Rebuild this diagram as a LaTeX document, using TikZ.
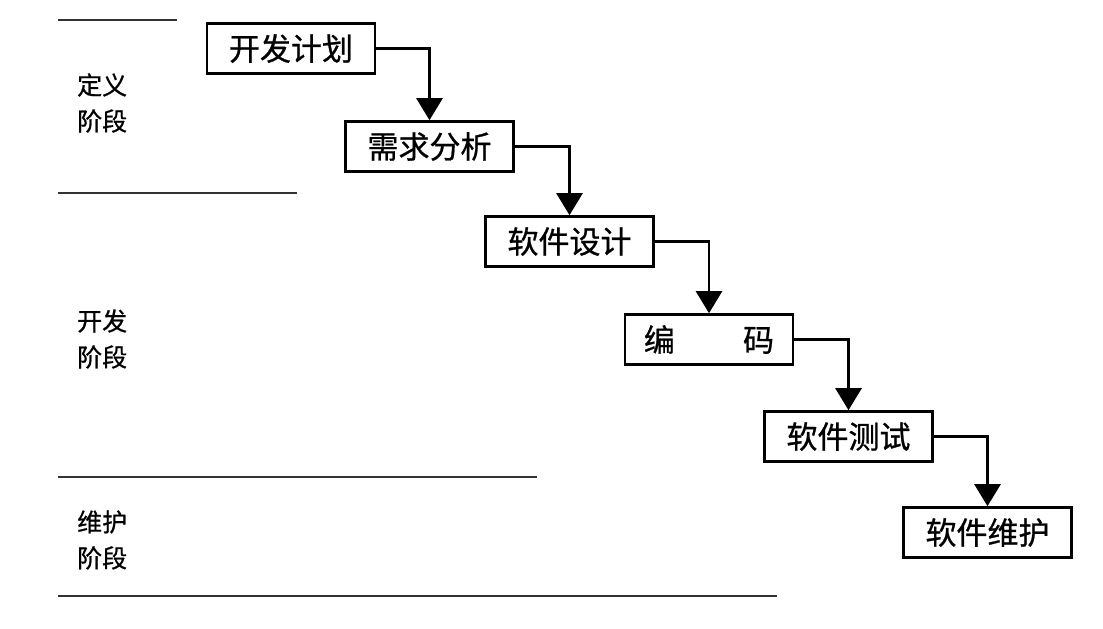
\documentclass[tikz,border=0pt]{standalone}
\usepackage{fontspec}
\newfontfamily\cjk[FakeBold=0.8]{Noto Sans CJK SC}
\usetikzlibrary{arrows.meta}
\begin{document}
\begin{tikzpicture}[x=1pt,y=-1pt,
  stage/.style={draw=black, line width=2.6pt, minimum width=168pt, minimum height=50pt, inner sep=0pt, font=\cjk\fontsize{31}{31}\selectfont},
  flow/.style={line width=2.6pt, -{Triangle[width=26pt,length=22pt]}},
  sepline/.style={line width=1.6pt, draw=black!80},
  lbl/.style={font=\cjk\fontsize{25}{36}\selectfont, align=left, anchor=west, inner sep=0pt}]
\useasboundingbox (0,0) rectangle (1103,629);
% separators
\draw[sepline] (58,20) -- (177,20);
\draw[sepline] (58,193) -- (297,193);
\draw[sepline] (58,477) -- (537,477);
\draw[sepline] (58,596) -- (777,596);
% phase labels
\node[lbl] (p1) at (77,103) {定义\\阶段};
\node[lbl] (p2) at (77,339) {开发\\阶段};
\node[lbl] (p3) at (77,540) {维护\\阶段};
% stages
\node[stage] (b1) at (291,48.5) {开发计划};
\node[stage] (b2) at (429.5,146.5) {需求分析};
\node[stage] (b3) at (569.5,241.5) {软件设计};
\node[stage] (b4) at (709,339.5) {编\hspace{2.2em}码};
\node[stage] (b5) at (848.5,436.5) {软件测试};
\node[stage] (b6) at (987.5,532.5) {软件维护};
% connectors
\draw[flow] (b1.east) -| (b2.north);
\draw[flow] (b2.east) -| (b3.north);
\draw[flow] (b3.east) -| (b4.north);
\draw[flow] (b4.east) -| (b5.north);
\draw[flow] (b5.east) -| (b6.north);
\end{tikzpicture}
\end{document}
